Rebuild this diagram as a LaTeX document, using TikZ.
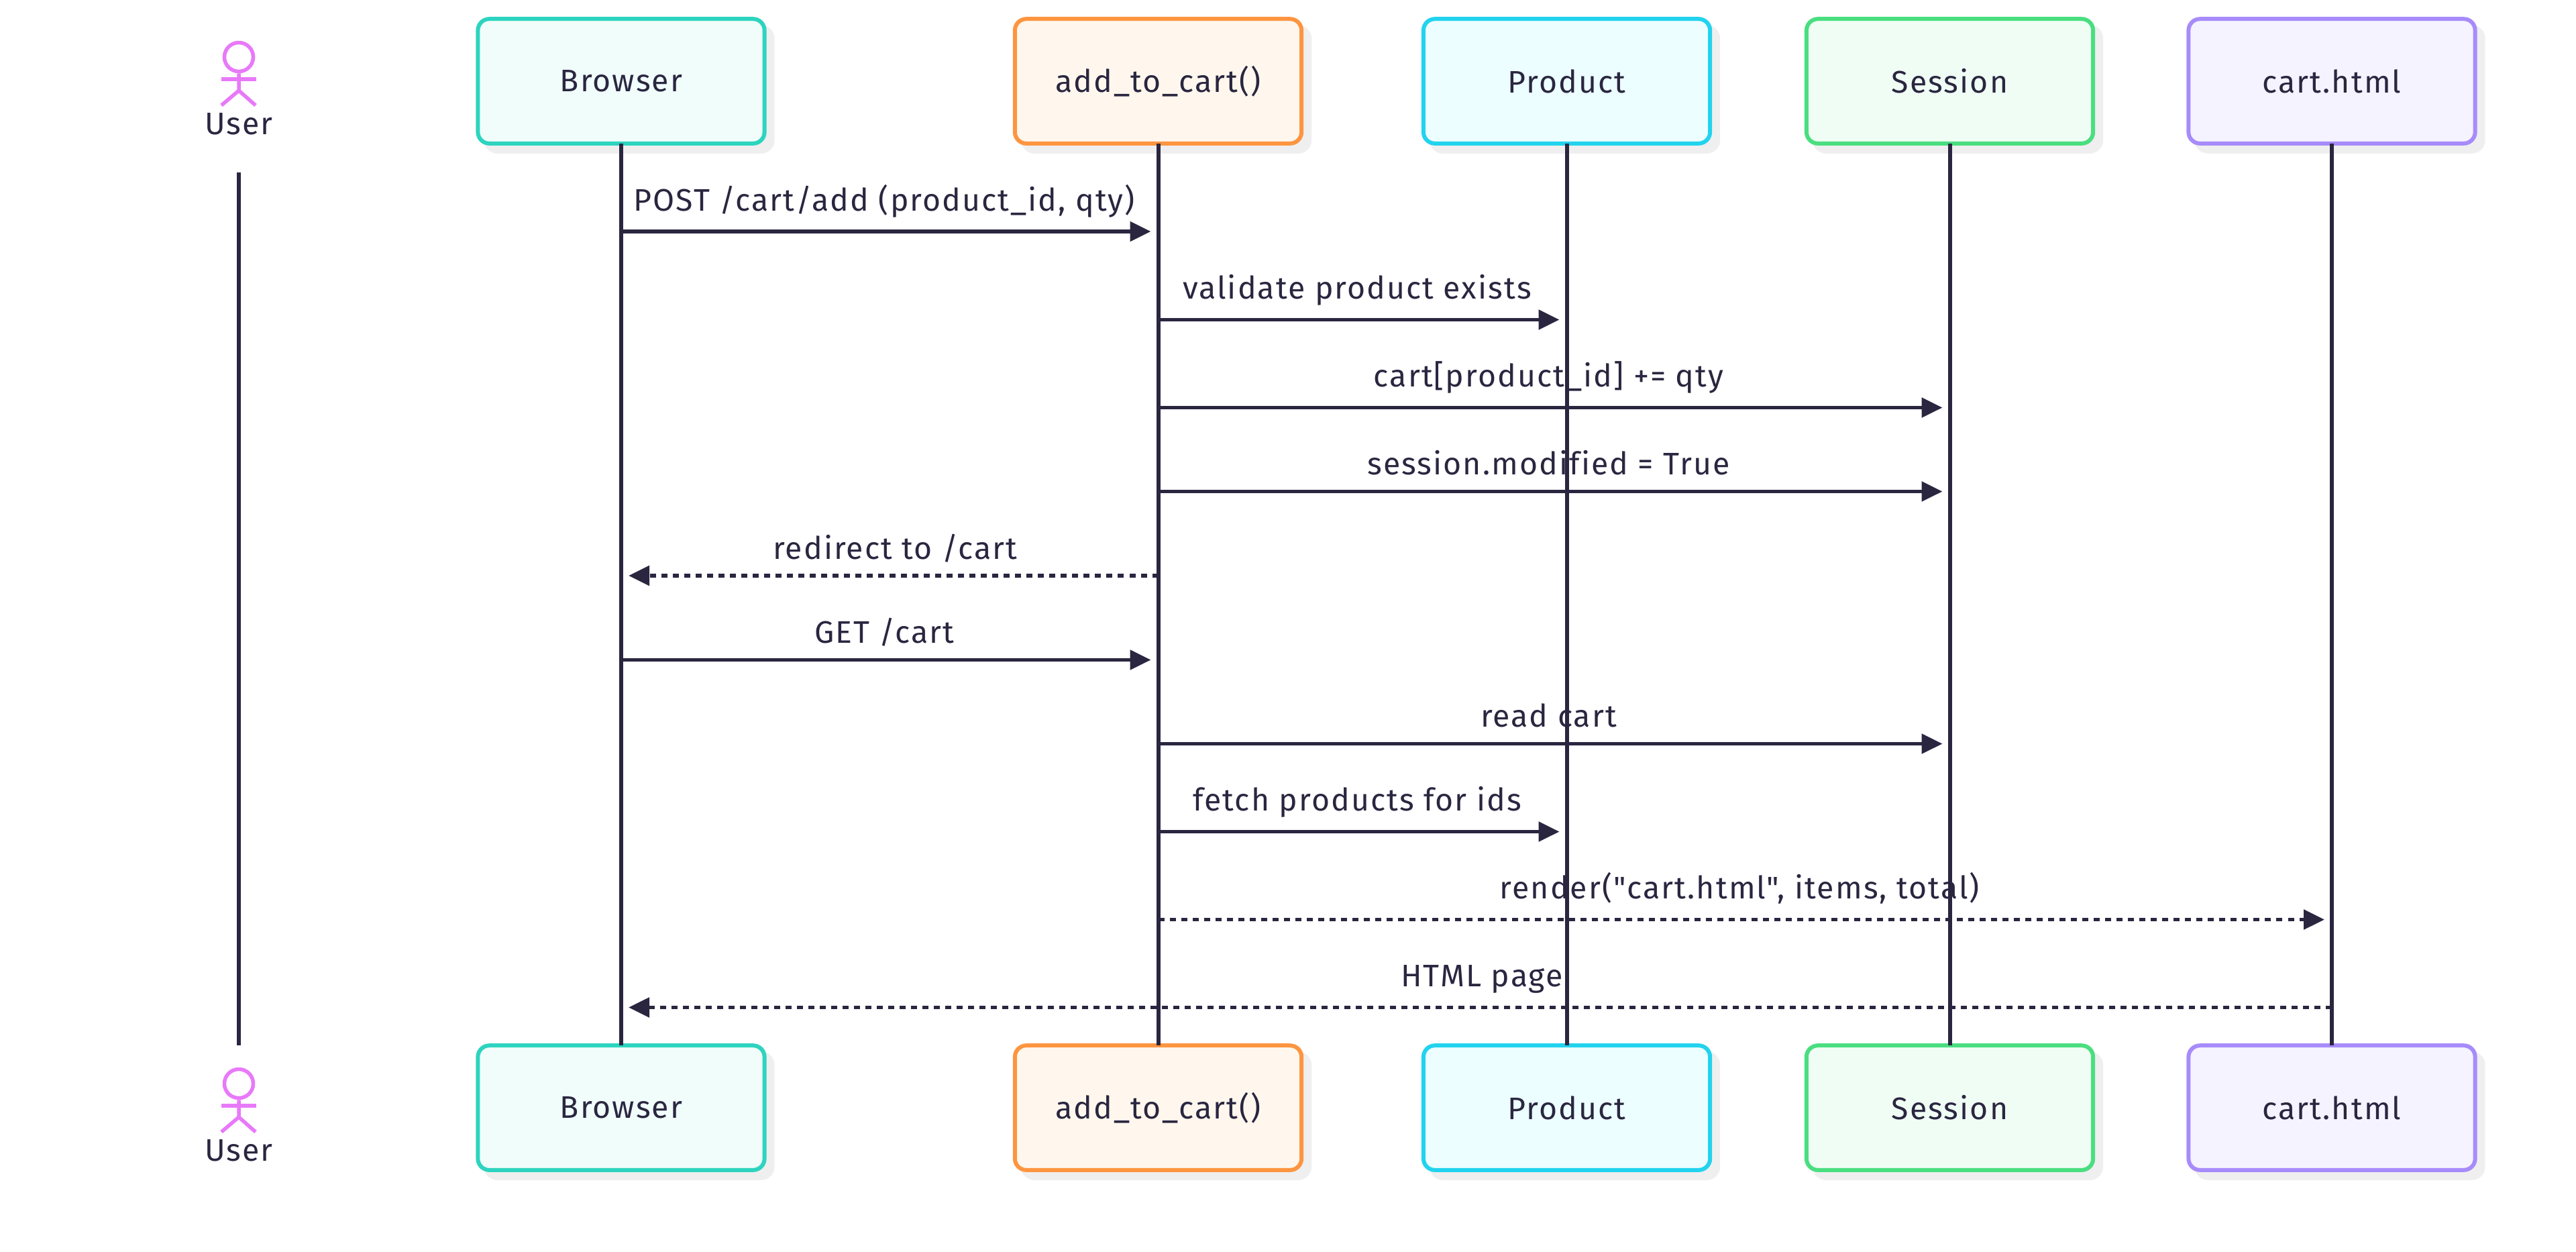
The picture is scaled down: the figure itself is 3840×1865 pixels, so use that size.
\documentclass[tikz,border=0pt]{standalone}
\usepackage{fontspec}
\newfontfamily\diagramfont{Fira Sans}[LetterSpace=4.5,Ligatures=NoCommon]
\usetikzlibrary{arrows.meta,shadows}
\definecolor{inkdark}{HTML}{2A2640}
\definecolor{shadowgray}{HTML}{EFEFEF}
\definecolor{actorpink}{HTML}{E879F9}
\definecolor{tealline}{HTML}{2DD4BF}\definecolor{tealfill}{HTML}{F0FDFA}
\definecolor{orangeline}{HTML}{FD9540}\definecolor{orangefill}{HTML}{FFF7ED}
\definecolor{cyanline}{HTML}{22D3EE}\definecolor{cyanfill}{HTML}{ECFEFF}
\definecolor{greenline}{HTML}{4ADE80}\definecolor{greenfill}{HTML}{F0FDF4}
\definecolor{purpleline}{HTML}{A78BFA}\definecolor{purplefill}{HTML}{F5F3FF}

\begin{document}
\begin{tikzpicture}[x=0.01cm, y=-0.01cm,
		>={Triangle[length=0.31cm,width=0.29cm]},   % arrow tips
		font=\diagramfont\fontsize{13.2pt}{16pt}\selectfont, text=inkdark,
		part/.style={draw=#1line, fill=#1fill, line width=0.06cm, rounded corners=0.17cm,
			minimum width=4.27cm, minimum height=1.855cm, inner sep=0pt, outer sep=0pt,
			drop shadow={shadow xshift=0.12cm, shadow yshift=-0.12cm, fill=shadowgray, draw=shadowgray, opacity=1}},
		lifeline/.style={draw=inkdark, line width=0.06cm},
		msg/.style={draw=inkdark, line width=0.055cm, ->, shorten >=0.11cm},
		solidmsg/.style={msg},
		dashmsg/.style={msg, dash pattern=on 0.09cm off 0.08cm},
		actorline/.style={draw=actorpink, line width=0.055cm},
		lbl/.style={inner sep=0pt, anchor=base}]
	% white page
	\path[use as bounding box] (0,0) rectangle (3840,1865);
	% bottom boxes first, the lifelines run over their border
	\foreach \n/\x/\c/\t in {browser/926/teal/Browser, addcart/1726.5/orange/add\_to\_cart(), product/2335.5/cyan/Product, session/2906.5/green/Session, carthtml/3476/purple/cart.html}
		\node[part=\c] (\n B) at (\x,1651) {\t};
	% top boxes
	\foreach \n/\x/\c/\t in {browser/926/teal/Browser, addcart/1726.5/orange/add\_to\_cart(), product/2335.5/cyan/Product, session/2906.5/green/Session, carthtml/3476/purple/cart.html}
		\node[part=\c] (\n T) at (\x,121) {\t};
	% lifelines
	\foreach \n in {browser,addcart,product,session,carthtml}
		\draw[lifeline] (\n T.south) -- (\n B.north);
	% actor, top and bottom
	\foreach \s/\yo in {T/0,B/1530} {
		\begin{scope}[yshift=-\yo*0.01cm]
			\node[draw=actorpink, circle, line width=0.055cm, minimum size=0.43cm, inner sep=0pt] (head\s) at (356,85) {};
			\coordinate (arms\s) at (356,118);
			\coordinate (hip\s) at (356,135);
			\draw[actorline] (head\s.south) -- (hip\s) -- (330,157);
			\draw[actorline] (hip\s) -- (381,157);
			\draw[actorline] (330,118) -- (arms\s) -- (382,118);
			\node[lbl] (user\s) at (356,200) {User};
		\end{scope}
	}
	\coordinate (lineStart) at (356,257);
	\coordinate (lineEnd) at (356,1558);
	\draw[lifeline] (lineStart) -- (lineEnd);
	% messages
	\foreach \i/\y/\a/\b/\sty/\sh/\up/\t in {
		1/345/browser/addcart/solidmsg/-8/31/{POST /cart/add (product\_id, qty)},
		2/476.5/addcart/product/solidmsg/-8/31/{validate product exists},
		3/607.5/addcart/session/solidmsg/-8/31/{cart[product\_id] += qty},
		4/732.5/addcart/session/solidmsg/-8/25/{session.modified = True},
		5/858/addcart/browser/dashmsg/8/25/{redirect to /cart},
		6/983.5/browser/addcart/solidmsg/-8/25/{GET /cart},
		7/1108.5/addcart/session/solidmsg/-8/25/{read cart},
		8/1239.5/addcart/product/solidmsg/-8/31/{fetch products for ids},
		9/1370.5/addcart/carthtml/dashmsg/-8/31/{render("cart.html", items, total)},
		10/1501.5/carthtml/browser/dashmsg/8/31/{HTML page}} {
		\coordinate (row\i) at (0,\y);
		\draw[\sty] (\a T.south |- row\i) -- (\b T.south |- row\i)
			node[lbl, midway, yshift=\up*0.01cm, xshift=\sh*0.01cm] (label\i) {\t};
	}
\end{tikzpicture}
\end{document}
